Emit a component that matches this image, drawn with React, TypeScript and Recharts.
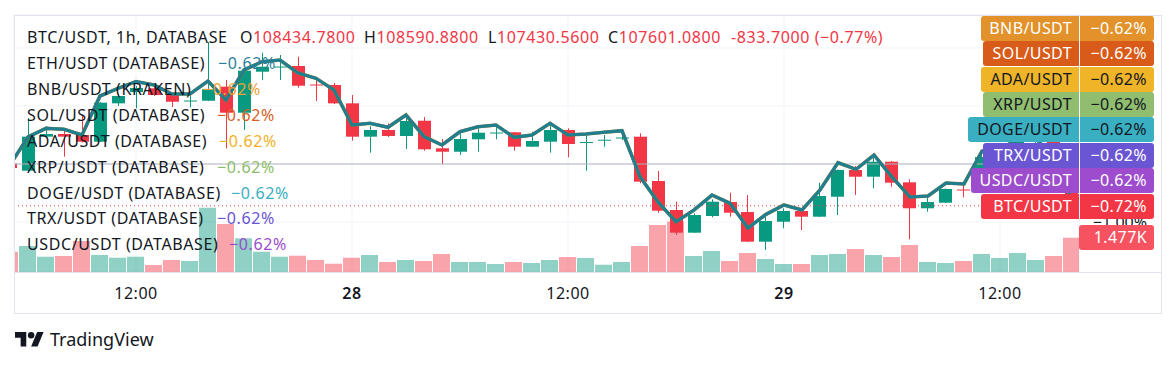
import React from "react";
import { ComposedChart, Bar, Line, XAxis, YAxis, CartesianGrid, ReferenceLine, Cell } from "recharts";

// BTC/USDT 1h candles, 27 05:00 .. 29 16:00 (first one is cut by the left edge)
const opens = [
  108391, 108256, 108892, 108942, 108923, 108798, 109515, 109726, 109796, 109670,
  109558, 109564, 109826, 109340, 110106, 110194, 110213, 109867, 109857, 109515,
  108892, 109017, 108905, 109190, 108675, 108611, 108843, 108961, 108974, 108705,
  108798, 109017, 108783, 108824, 108867, 108892, 108064, 107522, 107098, 107410,
  107671, 107484, 106930, 107303, 107503, 107397, 107770, 108269, 108144, 108424,
  108039, 107554, 107658, 107905, 107896, 108512, 108643, 108830, 108923, 108434.78,
];
const highs = [
  108437, 109241, 109091, 109017, 109297, 109540, 109689, 109839, 109839, 109689,
  109670, 110661, 109951, 110138, 110461, 110418, 110386, 109988, 109895, 109670,
  109091, 109142, 109334, 109260, 108849, 108955, 109048, 109078, 108979, 108985,
  109110, 109048, 108923, 108923, 109030, 108955, 108251, 107677, 107460, 107722,
  107845, 107802, 107397, 107554, 107512, 108032, 108279, 108344, 108494, 108437,
  108095, 107759, 107924, 107989, 108643, 108755, 108942, 109017, 108979, 108590.88,
];
const lows = [
  108269, 108232, 108877, 108518, 108783, 108792, 109465, 109422, 109652, 109446,
  109440, 109558, 108675, 109017, 109951, 109951, 109807, 109558, 109502, 108817,
  108593, 108886, 108662, 108630, 108381, 108550, 108611, 108843, 108630, 108699,
  108593, 108507, 108256, 108705, 108830, 108021, 107471, 107055, 107092, 107385,
  107397, 106924, 106774, 107180, 107148, 107391, 107428, 107802, 107927, 107957,
  106974, 107490, 107653, 107759, 107858, 108419, 108550, 108718, 108363, 107430.56,
];
const closes = [
  108307, 108892, 108942, 108892, 108798, 109527, 109652, 109801, 109670, 109545,
  109568, 109777, 109340, 110125, 110199, 110203, 109844, 109848, 109515, 108892,
  109017, 108905, 109185, 108656, 108611, 108849, 108966, 108970, 108705, 108811,
  109017, 108755, 108792, 108835, 108877, 108051, 107509, 107098, 107428, 107677,
  107471, 106930, 107316, 107503, 107397, 107783, 108269, 108144, 108424, 108032,
  107554, 107671, 107914, 107886, 108512, 108643, 108830, 108923, 108437, 107601.08,
];
// compare symbols (all drawn on top of each other), in BTC price terms
const compare = [
  108363, 108886, 109048, 109030, 108923, 109652, 109796, 109923, 109857, 109689,
  109689, 109932, 109577, 110138, 110293, 110324, 110082, 109983, 109764, 109110,
  109142, 109067, 109297, 108895, 108736, 108985, 109078, 109110, 108880, 108923,
  109142, 108923, 108942, 108974, 109004, 108144, 107671, 107303, 107522, 107802,
  107647, 107185, 107441, 107615, 107522, 107896, 108406, 108282, 108550, 108138,
  107765, 107783, 108026, 108008, 108624, 108680, 108830, 108867, 108456, 107709,
];
const volumes = [
  874, 1120, 659, 689, 1335, 732, 616, 659, 301, 517,
  474, 2769, 2067, 1451, 874, 659, 702, 517, 357, 616,
  732, 431, 517, 474, 775, 431, 431, 344, 431, 388,
  517, 646, 603, 314, 431, 1120, 2024, 2166, 689, 904,
  474, 818, 560, 344, 344, 732, 775, 990, 732, 646,
  1163, 431, 388, 474, 775, 603, 818, 517, 689, 1477,
];

const basePrice = 108381.4;
const pctTicks = [2, 1, 0, -1];
const pctTop = 2.569;
const pctBottom = -1.862;
const timeTickIdx = [6, 18, 30, 42, 54];
const timeTickLabels = ["12:00", "28", "12:00", "29", "12:00"];

const compareRows = [
  { name: "ETH/USDT (DATABASE)", value: "−0.62%", color: "#2b7f9b", x: 218 },
  { name: "BNB/USDT (KRAKEN)", value: "−0.62%", color: "#eaa034", x: 203 },
  { name: "SOL/USDT (DATABASE)", value: "−0.62%", color: "#d9611f", x: 217 },
  { name: "ADA/USDT (DATABASE)", value: "−0.62%", color: "#f0b125", x: 219 },
  { name: "XRP/USDT (DATABASE)", value: "−0.62%", color: "#8cbd6c", x: 217 },
  { name: "DOGE/USDT (DATABASE)", value: "−0.62%", color: "#3aafc2", x: 231 },
  { name: "TRX/USDT (DATABASE)", value: "−0.62%", color: "#6a54d4", x: 217 },
  { name: "USDC/USDT (DATABASE)", value: "−0.62%", color: "#9b4ccd", x: 229 },
];

const badges = [
  { label: "BNB/USDT", value: "−0.62%", bg: "#e3912a", fg: "#ffffff", left: 981 },
  { label: "SOL/USDT", value: "−0.62%", bg: "#d95b1a", fg: "#ffffff", left: 983 },
  { label: "ADA/USDT", value: "−0.62%", bg: "#f0b429", fg: "#131722", left: 981 },
  { label: "XRP/USDT", value: "−0.62%", bg: "#90bd6e", fg: "#131722", left: 983 },
  { label: "DOGE/USDT", value: "−0.62%", bg: "#3aafc1", fg: "#131722", left: 968 },
  { label: "TRX/USDT", value: "−0.62%", bg: "#6a55d3", fg: "#ffffff", left: 983 },
  { label: "USDC/USDT", value: "−0.62%", bg: "#9c4ccd", fg: "#ffffff", left: 971 },
  { label: "BTC/USDT", value: "−0.72%", bg: "#f23645", fg: "#ffffff", left: 981 },
];

const UP = "#089981";
const DOWN = "#F23645";
const FONT = "'Noto Sans', sans-serif";
const TEXT = "#131722";

const data = opens.map((o, k) => ({
  i: k - 1,
  open: o,
  high: highs[k],
  low: lows[k],
  close: closes[k],
  cmp: compare[k],
  vol: volumes[k],
}));

const toPrice = (p: number) => basePrice * (1 + p / 100);

const Candle = (props: any) => {
  const { x, y, width, height, payload } = props;
  if (height == null || !payload) return null;
  const { open, close, high, low } = payload;
  const color = close >= open ? UP : DOWN;
  const k = height / (high - low);
  const yO = y + (high - open) * k;
  const yC = y + (high - close) * k;
  const top = Math.min(yO, yC);
  const h = Math.max(1, Math.abs(yO - yC));
  const cx = Math.round(x + width / 2) + 0.5;
  return (
    <g>
      <line x1={cx} x2={cx} y1={y} y2={y + height} stroke={color} strokeWidth={1} />
      <rect x={cx - 6.5} y={top} width={13} height={h} fill={color} />
    </g>
  );
};

const TimeTick = (props: any) => {
  const { x, y, payload } = props;
  const label = timeTickLabels[timeTickIdx.indexOf(payload.value)];
  const isDay = !label.includes(":");
  return (
    <text x={x} y={y + 13} textAnchor="middle" dominantBaseline="central" fontSize={16} letterSpacing={0.5}
      fontWeight={isDay ? 600 : 400} fill={TEXT} fontFamily={FONT}>
      {label}
    </text>
  );
};

// only the lowest scale label peeks out from under the labels, the rest are covered
const PriceTick = (props: any) => {
  const { y, payload } = props;
  const p = (payload.value / basePrice - 1) * 100;
  if (p > -0.5) return null;
  const label = (p < 0 ? "−" : "") + Math.abs(p).toFixed(2) + "%";
  return (
    <text x={1147} y={y} textAnchor="end" dominantBaseline="central" fontSize={16} fill={TEXT} fontFamily={FONT}>
      {label}
    </text>
  );
};

const rowTop = (k: number) => 37.3 + 25.95 * k - 10.5;

export default function App() {
  const last = closes[closes.length - 1];
  return (
    <div style={{ position: "absolute", left: 0, top: 0, width: 1176, height: 367, background: "#fff", overflow: "hidden", fontFamily: FONT }}>
      <ComposedChart width={1176} height={367} data={data} margin={{ top: 15, right: 15, bottom: 54, left: 14 }}
        style={{ position: "absolute", left: 0, top: 0 }}>
        <CartesianGrid xAxisId="t" yAxisId="p" stroke="#f0f3fa" />
        <XAxis xAxisId="t" dataKey="i" type="number" domain={[-0.778, 58.389]} allowDataOverflow
          ticks={timeTickIdx} interval={0} tick={<TimeTick />} axisLine={false} tickLine={false} height={41} />
        <XAxis xAxisId="v" dataKey="i" type="number" domain={[-0.778, 58.389]} allowDataOverflow hide />
        <YAxis yAxisId="p" orientation="right" width={82} domain={[toPrice(pctBottom), toPrice(pctTop)]} allowDataOverflow
          ticks={pctTicks.map(toPrice)} interval={0} axisLine={false} tickLine={false} tick={<PriceTick />} />
        <YAxis yAxisId="vol" domain={[0, 11066]} hide />
        <Bar xAxisId="v" yAxisId="vol" dataKey="vol" barSize={17} isAnimationActive={false}>
          {data.map((d, k) => (
            <Cell key={k} fill={d.close >= d.open ? "rgba(8,153,129,0.45)" : "rgba(242,54,69,0.45)"} />
          ))}
        </Bar>
        <ReferenceLine xAxisId="t" yAxisId="p" y={basePrice} stroke="#b2b5be" />
        <ReferenceLine xAxisId="t" yAxisId="p" y={last} stroke={DOWN} strokeDasharray="1 3" />
        <Line xAxisId="t" yAxisId="p" dataKey="cmp" type="linear" stroke="#8a7b3e" strokeWidth={3.6} dot={false} isAnimationActive={false} />
        <Line xAxisId="t" yAxisId="p" dataKey="cmp" type="linear" stroke="#1e7f91" strokeWidth={3} dot={false} isAnimationActive={false} />
        <Bar xAxisId="t" yAxisId="p" dataKey={(d: any) => [d.low, d.high]} barSize={13} shape={<Candle />} isAnimationActive={false} />
      </ComposedChart>

      {/* frame and time-axis separator */}
      <div style={{ position: "absolute", left: 14, top: 15, width: 1148, height: 299, border: "1px solid #e0e3eb", boxSizing: "border-box" }} />
      <div style={{ position: "absolute", left: 14, top: 272, width: 1148, height: 1, background: "#e0e3eb" }} />

      {/* legend */}
      <div style={{ position: "absolute", left: 0, top: 0, fontSize: 16, lineHeight: "20px", letterSpacing: 0.6, color: TEXT, whiteSpace: "nowrap" }}>
        <span style={{ position: "absolute", left: 27, top: rowTop(0) }}>BTC/USDT, 1h, DATABASE</span>
        <span style={{ position: "absolute", left: 240, top: rowTop(0) }}>O<span style={{ color: DOWN }}>108434.7800</span></span>
        <span style={{ position: "absolute", left: 364, top: rowTop(0) }}>H<span style={{ color: DOWN }}>108590.8800</span></span>
        <span style={{ position: "absolute", left: 488, top: rowTop(0) }}>L<span style={{ color: DOWN }}>107430.5600</span></span>
        <span style={{ position: "absolute", left: 608, top: rowTop(0) }}>C<span style={{ color: DOWN }}>107601.0800</span></span>
        <span style={{ position: "absolute", left: 731, top: rowTop(0), color: DOWN }}>-833.7000 (−0.77%)</span>
        {compareRows.map((r, k) => (
          <React.Fragment key={r.name}>
            <span style={{ position: "absolute", left: 27, top: rowTop(k + 1) }}>{r.name}</span>
            <span style={{ position: "absolute", left: r.x, top: rowTop(k + 1), color: r.color }}>{r.value}</span>
          </React.Fragment>
        ))}
      </div>

      {/* price-scale labels */}
      {badges.map((b, k) => {
        const top = 15.6 + 25.45 * k;
        const common = {
          position: "absolute" as const, top, height: 25, background: b.bg, color: b.fg, fontSize: 16, lineHeight: "25px",
          letterSpacing: 0.4, textAlign: "right" as const, paddingRight: 7, boxSizing: "border-box" as const,
        };
        return (
          <React.Fragment key={b.label}>
            <div style={{ ...common, left: b.left, width: 1079 - b.left, borderRadius: "3px 0 0 3px" }}>{b.label}</div>
            <div style={{ ...common, left: 1080, width: 74, borderRadius: "0 3px 3px 0" }}>{b.value}</div>
          </React.Fragment>
        );
      })}
      <div style={{ position: "absolute", left: 1079, top: 225.3, width: 75, height: 25, background: "#f7525f", color: "#fff",
        fontSize: 16, lineHeight: "25px", letterSpacing: 0.4, textAlign: "right", paddingRight: 7, boxSizing: "border-box", borderRadius: 3 }}>
        1.477K
      </div>

      {/* logo */}
      <svg width={29} height={14.5} viewBox="0 4 36 18" style={{ position: "absolute", left: 15, top: 332 }}>
        <path d="M14 22H7V11H0V4h14v18z" fill={TEXT} />
        <circle cx={20} cy={8} r={4} fill={TEXT} />
        <path d="M28 22h-8l7.5-18h8L28 22z" fill={TEXT} />
      </svg>
      <span style={{ position: "absolute", left: 50, top: 327, fontSize: 18, lineHeight: "24px", color: TEXT }}>TradingView</span>
    </div>
  );
}
